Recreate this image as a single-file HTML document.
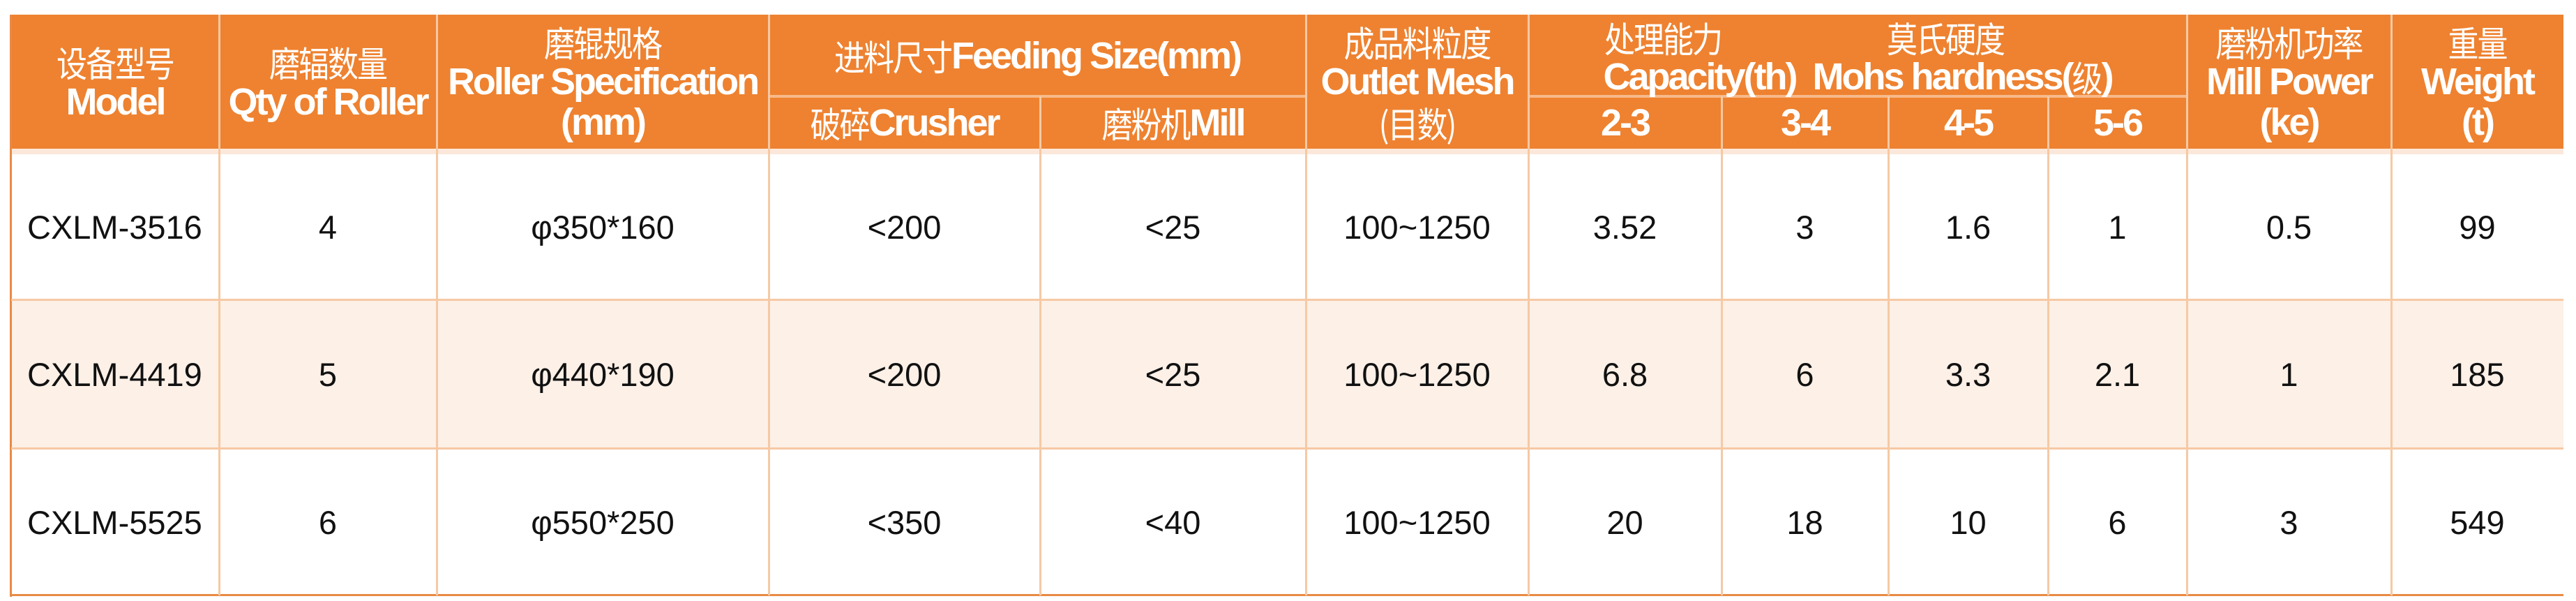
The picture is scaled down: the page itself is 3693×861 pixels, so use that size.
<!DOCTYPE html>
<html><head><meta charset="utf-8"><style>
html,body{margin:0;padding:0;width:3693px;height:861px;background:#fff;overflow:hidden}
.c{position:absolute;display:flex;flex-direction:column;align-items:center;justify-content:center;text-align:center;box-sizing:border-box}
.h{color:#fff;font-family:"Liberation Sans","Noto Sans CJK SC",sans-serif;font-size:54px;line-height:58px;white-space:pre}
.h b{font-weight:bold;letter-spacing:-3px}
.z{font-family:"Noto Sans CJK SC",sans-serif;font-weight:400;font-size:44px;letter-spacing:-2px;color:#fff;display:inline-block;transform:scaleY(1.15)}
.d{color:#111;font-family:"Liberation Sans",sans-serif;font-size:47px}
.vl{position:absolute;width:3px;background:#f6c9a4}
.hl{position:absolute;height:4px;background:#f6c9a4}
</style></head><body>
<div style="position:absolute;left:16px;top:21px;width:3659px;height:192px;background:#ee8230"></div>
<div style="position:absolute;left:16px;top:213px;width:3659px;height:8px;background:#fbe8da"></div>
<div style="position:absolute;left:16px;top:429px;width:3659px;height:213px;background:#fcf0e7"></div>
<div style="position:absolute;left:14px;top:21px;width:3px;height:834px;background:#e98a45"></div>
<div style="position:absolute;left:14px;top:851px;width:3661px;height:3px;background:#e98a45"></div>
<div class="hl" style="left:16px;top:428px;width:3659px;height:3px"></div>
<div class="hl" style="left:16px;top:641px;width:3659px;height:3px"></div>
<div class="hl" style="left:1102px;top:136px;width:770px;background:#f7b98a"></div>
<div class="hl" style="left:2191px;top:136px;width:944px;background:#f7b98a"></div>
<div class="vl" style="left:313px;top:21px;height:832px"></div>
<div class="vl" style="left:625px;top:21px;height:832px"></div>
<div class="vl" style="left:1101px;top:21px;height:832px"></div>
<div class="vl" style="left:1490px;top:138px;height:715px"></div>
<div class="vl" style="left:1871px;top:21px;height:832px"></div>
<div class="vl" style="left:2190px;top:21px;height:832px"></div>
<div class="vl" style="left:2467px;top:138px;height:715px"></div>
<div class="vl" style="left:2706px;top:138px;height:715px"></div>
<div class="vl" style="left:2935px;top:138px;height:715px"></div>
<div class="vl" style="left:3134px;top:21px;height:832px"></div>
<div class="vl" style="left:3427px;top:21px;height:832px"></div>

<div class="c h" style="left:16px;top:21px;width:298px;height:192px"><span class="z">设备型号</span><b>Model</b></div>
<div class="c h" style="left:314px;top:21px;width:312px;height:192px"><span class="z">磨辐数量</span><b>Qty of Roller</b></div>
<div class="c h" style="left:626px;top:21px;width:476px;height:192px"><span class="z">磨辊规格</span><b>Roller Specification</b><b>(mm)</b></div>
<div class="c h" style="left:1102px;top:21px;width:770px;height:116px"><span><span class="z">进料尺寸</span><b>Feeding Size(mm)</b></span></div>
<div class="c h" style="left:1102px;top:138px;width:389px;height:75px"><span><span class="z">破碎</span><b>Crusher</b></span></div>
<div class="c h" style="left:1491px;top:138px;width:381px;height:75px"><span><span class="z">磨粉机</span><b>Mill</b></span></div>
<div class="c h" style="left:1872px;top:21px;width:319px;height:192px"><span class="z">成品料粒度</span><b>Outlet Mesh</b><span class="z">(目数)</span></div>
<div class="z" style="position:absolute;left:2300px;top:24px;line-height:58px">处理能力</div>
<div class="z" style="position:absolute;left:2705px;top:24px;line-height:58px">莫氏硬度</div>
<div class="c h" style="left:2191px;top:80px;width:944px;height:58px"><span><b>Capacity(th)  Mohs hardness(</b><span class="z">级</span><b>)</b></span></div>
<div class="c h" style="left:2191px;top:138px;width:277px;height:75px"><b>2-3</b></div>
<div class="c h" style="left:2468px;top:138px;width:239px;height:75px"><b>3-4</b></div>
<div class="c h" style="left:2707px;top:138px;width:229px;height:75px"><b>4-5</b></div>
<div class="c h" style="left:2936px;top:138px;width:199px;height:75px"><b>5-6</b></div>
<div class="c h" style="left:3135px;top:21px;width:293px;height:192px"><span class="z">磨粉机功率</span><b>Mill Power</b><b>(ke)</b></div>
<div class="c h" style="left:3428px;top:21px;width:247px;height:192px"><span class="z">重量</span><b>Weight</b><b>(t)</b></div>

<div class="c d" style="left:16px;top:221px;width:298px;height:208px;align-items:flex-start;padding-left:23px">CXLM-3516</div>
<div class="c d" style="left:314px;top:221px;width:312px;height:208px">4</div>
<div class="c d" style="left:626px;top:221px;width:476px;height:208px">φ350*160</div>
<div class="c d" style="left:1102px;top:221px;width:389px;height:208px">&lt;200</div>
<div class="c d" style="left:1491px;top:221px;width:381px;height:208px">&lt;25</div>
<div class="c d" style="left:1872px;top:221px;width:319px;height:208px">100~1250</div>
<div class="c d" style="left:2191px;top:221px;width:277px;height:208px">3.52</div>
<div class="c d" style="left:2468px;top:221px;width:239px;height:208px">3</div>
<div class="c d" style="left:2707px;top:221px;width:229px;height:208px">1.6</div>
<div class="c d" style="left:2936px;top:221px;width:199px;height:208px">1</div>
<div class="c d" style="left:3135px;top:221px;width:293px;height:208px">0.5</div>
<div class="c d" style="left:3428px;top:221px;width:247px;height:208px">99</div>

<div class="c d" style="left:16px;top:431px;width:298px;height:211px;align-items:flex-start;padding-left:23px">CXLM-4419</div>
<div class="c d" style="left:314px;top:431px;width:312px;height:211px">5</div>
<div class="c d" style="left:626px;top:431px;width:476px;height:211px">φ440*190</div>
<div class="c d" style="left:1102px;top:431px;width:389px;height:211px">&lt;200</div>
<div class="c d" style="left:1491px;top:431px;width:381px;height:211px">&lt;25</div>
<div class="c d" style="left:1872px;top:431px;width:319px;height:211px">100~1250</div>
<div class="c d" style="left:2191px;top:431px;width:277px;height:211px">6.8</div>
<div class="c d" style="left:2468px;top:431px;width:239px;height:211px">6</div>
<div class="c d" style="left:2707px;top:431px;width:229px;height:211px">3.3</div>
<div class="c d" style="left:2936px;top:431px;width:199px;height:211px">2.1</div>
<div class="c d" style="left:3135px;top:431px;width:293px;height:211px">1</div>
<div class="c d" style="left:3428px;top:431px;width:247px;height:211px">185</div>

<div class="c d" style="left:16px;top:644px;width:298px;height:208px;align-items:flex-start;padding-left:23px">CXLM-5525</div>
<div class="c d" style="left:314px;top:644px;width:312px;height:208px">6</div>
<div class="c d" style="left:626px;top:644px;width:476px;height:208px">φ550*250</div>
<div class="c d" style="left:1102px;top:644px;width:389px;height:208px">&lt;350</div>
<div class="c d" style="left:1491px;top:644px;width:381px;height:208px">&lt;40</div>
<div class="c d" style="left:1872px;top:644px;width:319px;height:208px">100~1250</div>
<div class="c d" style="left:2191px;top:644px;width:277px;height:208px">20</div>
<div class="c d" style="left:2468px;top:644px;width:239px;height:208px">18</div>
<div class="c d" style="left:2707px;top:644px;width:229px;height:208px">10</div>
<div class="c d" style="left:2936px;top:644px;width:199px;height:208px">6</div>
<div class="c d" style="left:3135px;top:644px;width:293px;height:208px">3</div>
<div class="c d" style="left:3428px;top:644px;width:247px;height:208px">549</div>
</body></html>
